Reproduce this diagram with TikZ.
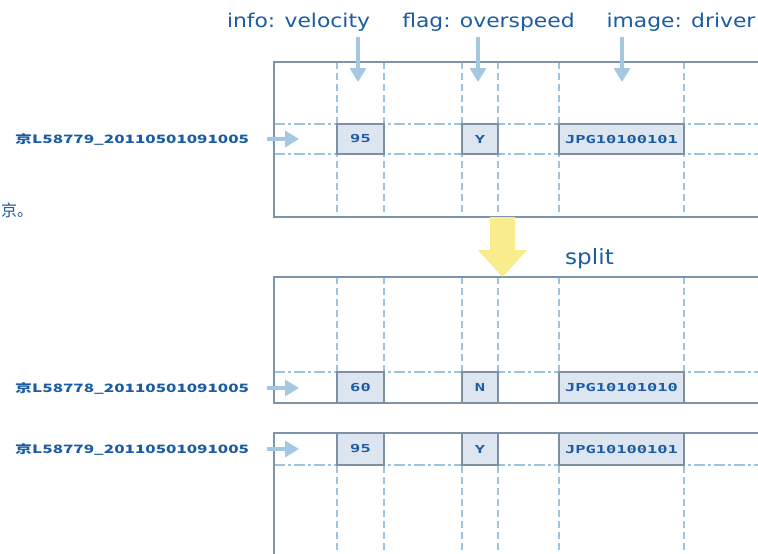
\documentclass[tikz,border=0pt]{standalone}
\usepackage{fontspec}
\setmainfont{DejaVu Sans}
\newfontfamily\cjk{Noto Sans CJK SC}
\newfontfamily\keyfam{DejaVu Sans Mono}
\usetikzlibrary{arrows.meta}
\definecolor{framec}{HTML}{7D95AB}
\definecolor{dashc}{HTML}{9CC4DE}
\definecolor{cellf}{HTML}{DCE5F0}
\definecolor{cellb}{HTML}{7D8FA3}
\definecolor{txt}{HTML}{1B5CA2}
\definecolor{arrc}{HTML}{A3C9E2}
\definecolor{yel}{HTML}{F8EC8C}
\newcommand\keytext[1]{\scalebox{1.55}[1]{\fontsize{11pt}{11pt}\selectfont #1}}
\newcommand\rowkey[1]{\scalebox{1.48}[1]{\fontsize{11.5pt}{11.5pt}\selectfont #1}}
\begin{document}
\begin{tikzpicture}[x=1pt,y=-1pt,
  frame/.style={draw=framec, line width=1.8pt, fill=none},
  vline/.style={draw=dashc, line width=1.3pt, dash pattern=on 7pt off 4pt},
  hline/.style={draw=dashc, line width=1.3pt, dash pattern=on 11pt off 3pt on 3pt off 3pt},
  cell/.style={draw=cellb, fill=cellf, line width=1.4pt, inner sep=0pt, text=txt, font=\keyfam\bfseries},
  keyarrow/.style={draw=arrc, line width=3.5pt, -{Triangle[width=16pt,length=14pt]}},
  lbl/.style={text=txt, inner sep=0pt, font=\fontsize{19pt}{19pt}\selectfont},
  key/.style={text=txt, inner sep=0pt, font=\cjk\bfseries, anchor=west}]
\clip (0,0) rectangle (758,554);
\fill[white] (0,0) rectangle (758,554);

% ---------- table 1 ----------
\foreach \x in {337,384,462,498,559,684} \draw[vline] (\x,62) -- (\x,217);
\foreach \y in {124,154} \draw[hline] (274,\y) -- (800,\y);
\draw[frame] (274,62) rectangle (800,217);
\node[cell, minimum width=47pt, minimum height=30pt] (c95a) at (360.5,139) {\keytext{95}};
\node[cell, minimum width=36pt, minimum height=30pt] (cYa) at (480,139) {\keytext{Y}};
\node[cell, minimum width=125pt, minimum height=30pt] (cJa) at (621.5,139) {\keytext{JPG10100101}};

% ---------- table 2 ----------
\foreach \x in {337,384,462,498,559,684} \draw[vline] (\x,277) -- (\x,403);
\draw[hline] (274,372) -- (800,372);
\draw[frame] (274,277) rectangle (800,403);
\node[cell, minimum width=47pt, minimum height=31pt] (c60) at (360.5,387.5) {\keytext{60}};
\node[cell, minimum width=36pt, minimum height=31pt] (cN) at (480,387.5) {\keytext{N}};
\node[cell, minimum width=125pt, minimum height=31pt] (cJb) at (621.5,387.5) {\keytext{JPG10101010}};

% ---------- table 3 ----------
\foreach \x in {337,384,462,498,559,684} \draw[vline] (\x,433) -- (\x,560);
\draw[hline] (274,465) -- (800,465);
\draw[frame] (274,433) rectangle (800,600);
\node[cell, minimum width=47pt, minimum height=32pt] (c95b) at (360.5,449) {\keytext{95}};
\node[cell, minimum width=36pt, minimum height=32pt] (cYb) at (480,449) {\keytext{Y}};
\node[cell, minimum width=125pt, minimum height=32pt] (cJc) at (621.5,449) {\keytext{JPG10100101}};

% ---------- column labels ----------
\node[lbl] (l1) at (298.5,22) {\scalebox{1.15}[1]{info: velocity}};
\node[lbl] (l2) at (488.5,22) {\scalebox{1.15}[1]{flag: overspeed}};
\node[lbl] (l3) at (681,22) {\scalebox{1.15}[1]{image: driver}};
\coordinate (a1) at (358,82);
\coordinate (a2) at (478,82);
\coordinate (a3) at (622,82);
\draw[keyarrow] (358,37) -- (a1);
\draw[keyarrow] (478,37) -- (a2);
\draw[keyarrow] (622,37) -- (a3);

% ---------- row keys ----------
\node[key] (k1) at (15,139) {\rowkey{京L58779\_20110501091005}};
\node[key] (k2) at (15,388) {\rowkey{京L58778\_20110501091005}};
\node[key] (k3) at (15,449) {\rowkey{京L58779\_20110501091005}};
\coordinate (r1) at (299,139);
\coordinate (r2) at (299,388);
\coordinate (r3) at (299,449);
\draw[keyarrow] (267,139) -- (r1);
\draw[keyarrow] (267,388) -- (r2);
\draw[keyarrow] (267,449) -- (r3);

% stray text at left
\node[text=txt, inner sep=0pt, anchor=west, font=\cjk\fontsize{16pt}{16pt}\selectfont] (st) at (1,210) {京。};

% ---------- split arrow ----------
\fill[yel] (490,217) -- (515,217) -- (515,250) -- (527,250) -- (502.5,277) -- (478,250) -- (490,250) -- cycle;
\node[text=txt, inner sep=0pt, font=\fontsize{21pt}{21pt}\selectfont, anchor=west] (sp) at (565,259) {\scalebox{1.1}[1]{split}};
\end{tikzpicture}
\end{document}
